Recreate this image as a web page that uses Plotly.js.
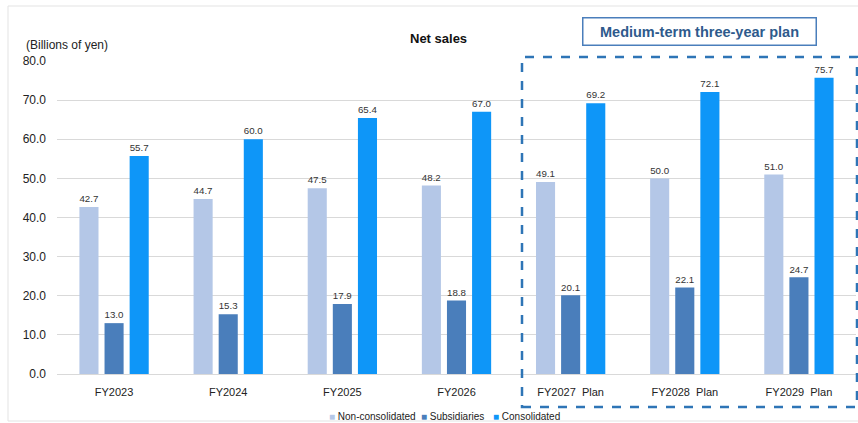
<!DOCTYPE html>
<html>
<head>
<meta charset="utf-8">
<script src="https://cdn.plot.ly/plotly-3.0.1.min.js"></script>
<style>html,body{margin:0;padding:0;background:#fff;}#chart{width:858px;height:423px;}</style>
</head>
<body>
<div id="chart"></div>
<script>
const categories = ["FY2023", "FY2024", "FY2025", "FY2026", "FY2027  Plan", "FY2028  Plan", "FY2029  Plan"];
const seriesNames = ["Non-consolidated", "Subsidiaries", "Consolidated"];
const nonConsolidated = [42.7, 44.7, 47.5, 48.2, 49.1, 50.0, 51.0];
const subsidiaries = [13.0, 15.3, 17.9, 18.8, 20.1, 22.1, 24.7];
const consolidated = [55.7, 60.0, 65.4, 67.0, 69.2, 72.1, 75.7];
const yTicks = [0, 10, 20, 30, 40, 50, 60, 70, 80];
const colors = ["#B4C7E7", "#4A7EBB", "#0E96F8"];

const FONT = "Liberation Sans, Arial, sans-serif";

function series(name, vals, color) {
  return {
    type: "bar", name: name, x: categories, y: vals,
    marker: {color: color},
    text: vals.map(v => v.toFixed(1)), textposition: "outside",
    textfont: {family: FONT, size: 10.5, color: "#333"},
    cliponaxis: false, hoverinfo: "none", showlegend: false
  };
}

const data = [
  series(seriesNames[0], nonConsolidated, colors[0]),
  series(seriesNames[1], subsidiaries, colors[1]),
  series(seriesNames[2], consolidated, colors[2])
];

const L = 57, W = 799, B = 374, H = 313;
const px = x => (x - L) / W;
const py = y => (B - y) / H;

const legendX = [327, 419, 491];
const legendAnn = seriesNames.map((n, i) => ({
  text: "<span style='color:" + colors[i] + "'>■</span> " + n,
  xref: "paper", yref: "paper", x: px(legendX[i]), y: py(416),
  xanchor: "left", yanchor: "middle", showarrow: false,
  font: {family: FONT, size: 10, color: "#222"}
}));

const layout = {
  width: 858, height: 423,
  margin: {l: L, r: 2, t: 61, b: 49, autoexpand: false},
  paper_bgcolor: "#fff", plot_bgcolor: "#fff",
  font: {family: FONT, color: "#222"},
  barmode: "group", bargap: 0.34, bargroupgap: 0.24,
  showlegend: false,
  xaxis: {tickfont: {size: 11, color: "#222"}, showgrid: false, ticks: "",
    showline: true, linecolor: "#D9D9D9", ticklabelstandoff: 8},
  yaxis: {range: [0, 80], tickvals: yTicks, ticktext: yTicks.map(v => v.toFixed(1)),
    tickfont: {size: 12, color: "#222"}, gridcolor: "#D9D9D9", gridwidth: 1,
    zeroline: true, zerolinecolor: "#D9D9D9", ticks: "", ticklabelstandoff: 10},
  annotations: [
    {text: "<b>Net sales</b>", xref: "paper", yref: "paper", x: px(438), y: py(39),
      showarrow: false, font: {size: 13, color: "#111"}, xanchor: "center", yanchor: "middle"},
    {text: "(Billions of yen)", xref: "paper", yref: "paper", x: px(24), y: py(45),
      showarrow: false, font: {size: 12, color: "#222"}, xanchor: "left", yanchor: "middle"},
    {text: "<b>Medium-term three-year plan</b>", xref: "paper", yref: "paper", x: px(699.5), y: py(31.5),
      showarrow: false, font: {size: 14.5, color: "#2E5A8C"}, xanchor: "center", yanchor: "middle",
      bordercolor: "#4A7EBB", borderwidth: 1.5, borderpad: 5, bgcolor: "#fff", width: 222}
  ].concat(legendAnn),
  shapes: [
    {type: "rect", xref: "paper", yref: "paper", x0: px(8), x1: px(870),
      y0: py(421), y1: py(6), line: {color: "#E3E3E3", width: 1}, layer: "below"},
    {type: "rect", xref: "paper", yref: "paper", x0: px(522), x1: px(857),
      y0: py(407), y1: py(57), line: {color: "#2E75B6", width: 2.5, dash: "dash"}}
  ]
};

Plotly.newPlot("chart", data, layout, {displayModeBar: false, staticPlot: true});
</script>
</body>
</html>
